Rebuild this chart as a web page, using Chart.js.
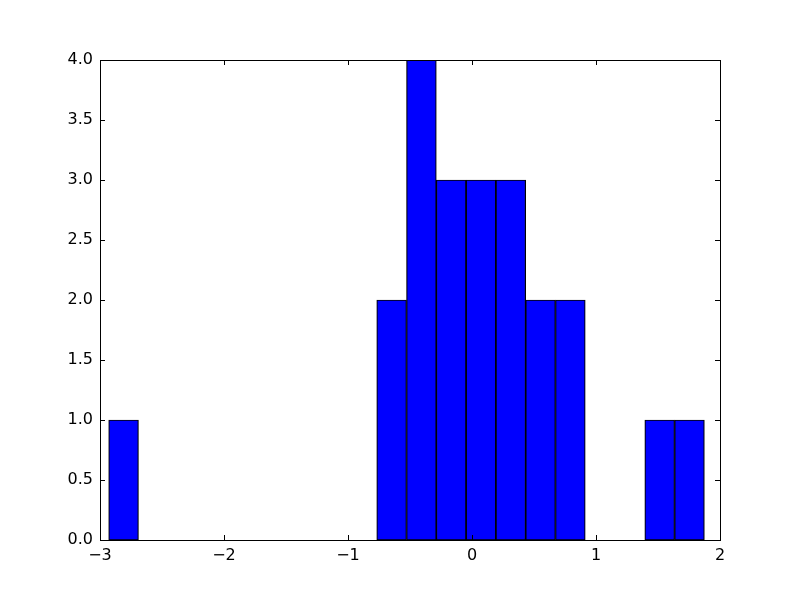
<!DOCTYPE html>
<html>
<head>
<meta charset="utf-8">
<script src="https://cdn.jsdelivr.net/npm/chart.js@4/dist/chart.umd.min.js"></script>
<style>
  html, body { margin: 0; padding: 0; background: #fff; }
  #wrap { width: 800px; height: 600px; }
</style>
</head>
<body>
<div id="wrap"><canvas id="myChart" width="800" height="600"></canvas></div>
<script>
// histogram bins (20 bins)
const binStart = -2.93
const binWidth = 0.2402
const counts = [1, 0, 0, 0, 0, 0, 0, 0, 0, 2, 4, 3, 3, 3, 2, 2, 0, 0, 1, 1]
const xTicks = [-3, -2, -1, 0, 1, 2]
const yTicks = [0, 0.5, 1, 1.5, 2, 2.5, 3, 3.5, 4]

const puntos = counts.map((c, i) => ({ x: binStart + binWidth * (i + 0.5), y: c }))

// frame + inward ticks on all four sides, like matplotlib classic
const marcoPlugin = {
  id: 'marco',
  afterDraw(chart) {
    const ctx = chart.ctx
    const a = chart.chartArea
    const sx = chart.scales.x
    const sy = chart.scales.y
    const len = 5
    ctx.save()
    ctx.strokeStyle = '#000'
    ctx.lineWidth = 1
    ctx.beginPath()
    xTicks.forEach(v => {
      const px = Math.round(sx.getPixelForValue(v)) + 0.5
      ctx.moveTo(px, a.bottom); ctx.lineTo(px, a.bottom - len)
      ctx.moveTo(px, a.top); ctx.lineTo(px, a.top + len)
    })
    yTicks.forEach(v => {
      const py = Math.round(sy.getPixelForValue(v)) + 0.5
      ctx.moveTo(a.left, py); ctx.lineTo(a.left + len, py)
      ctx.moveTo(a.right, py); ctx.lineTo(a.right - len, py)
    })
    ctx.stroke()
    ctx.strokeRect(Math.round(a.left) + 0.5, Math.round(a.top) + 0.5,
      Math.round(a.right - a.left), Math.round(a.bottom - a.top))
    ctx.restore()
  }
}

Chart.defaults.font.family = '"DejaVu Sans", sans-serif'
Chart.defaults.font.size = 16
Chart.defaults.color = '#000'

const grafica = document.getElementById('myChart').getContext('2d')
const myChart = new Chart(grafica, {
  type: 'bar',
  data: {
    datasets: [{
      data: puntos,
      backgroundColor: '#0000ff',
      borderColor: '#000000',
      borderWidth: 1.2,
      borderSkipped: false,
      barPercentage: 1,
      categoryPercentage: 1
    }]
  },
  options: {
    responsive: false,
    animation: false,
    layout: { padding: { top: 60, right: 80, left: 0, bottom: 0 } },
    plugins: { legend: { display: false }, tooltip: { enabled: false } },
    scales: {
      x: {
        type: 'linear',
        offset: false,
        min: -3,
        max: 2,
        afterFit: s => { s.height = 60 },
        afterBuildTicks: s => { s.ticks = xTicks.map(v => ({ value: v })) },
        grid: { display: false, drawTicks: false, offset: false },
        border: { display: false },
        ticks: {
          padding: 6,
          maxRotation: 0,
          callback: v => v < 0 ? '\u2212' + Math.abs(v) : String(v)
        }
      },
      y: {
        min: 0,
        max: 4,
        afterFit: s => { s.width = 100 },
        afterBuildTicks: s => { s.ticks = yTicks.map(v => ({ value: v })) },
        grid: { display: false, drawTicks: false },
        border: { display: false },
        ticks: {
          padding: 7,
          callback: v => Number(v).toFixed(1)
        }
      }
    }
  },
  plugins: [marcoPlugin]
})
</script>
</body>
</html>
